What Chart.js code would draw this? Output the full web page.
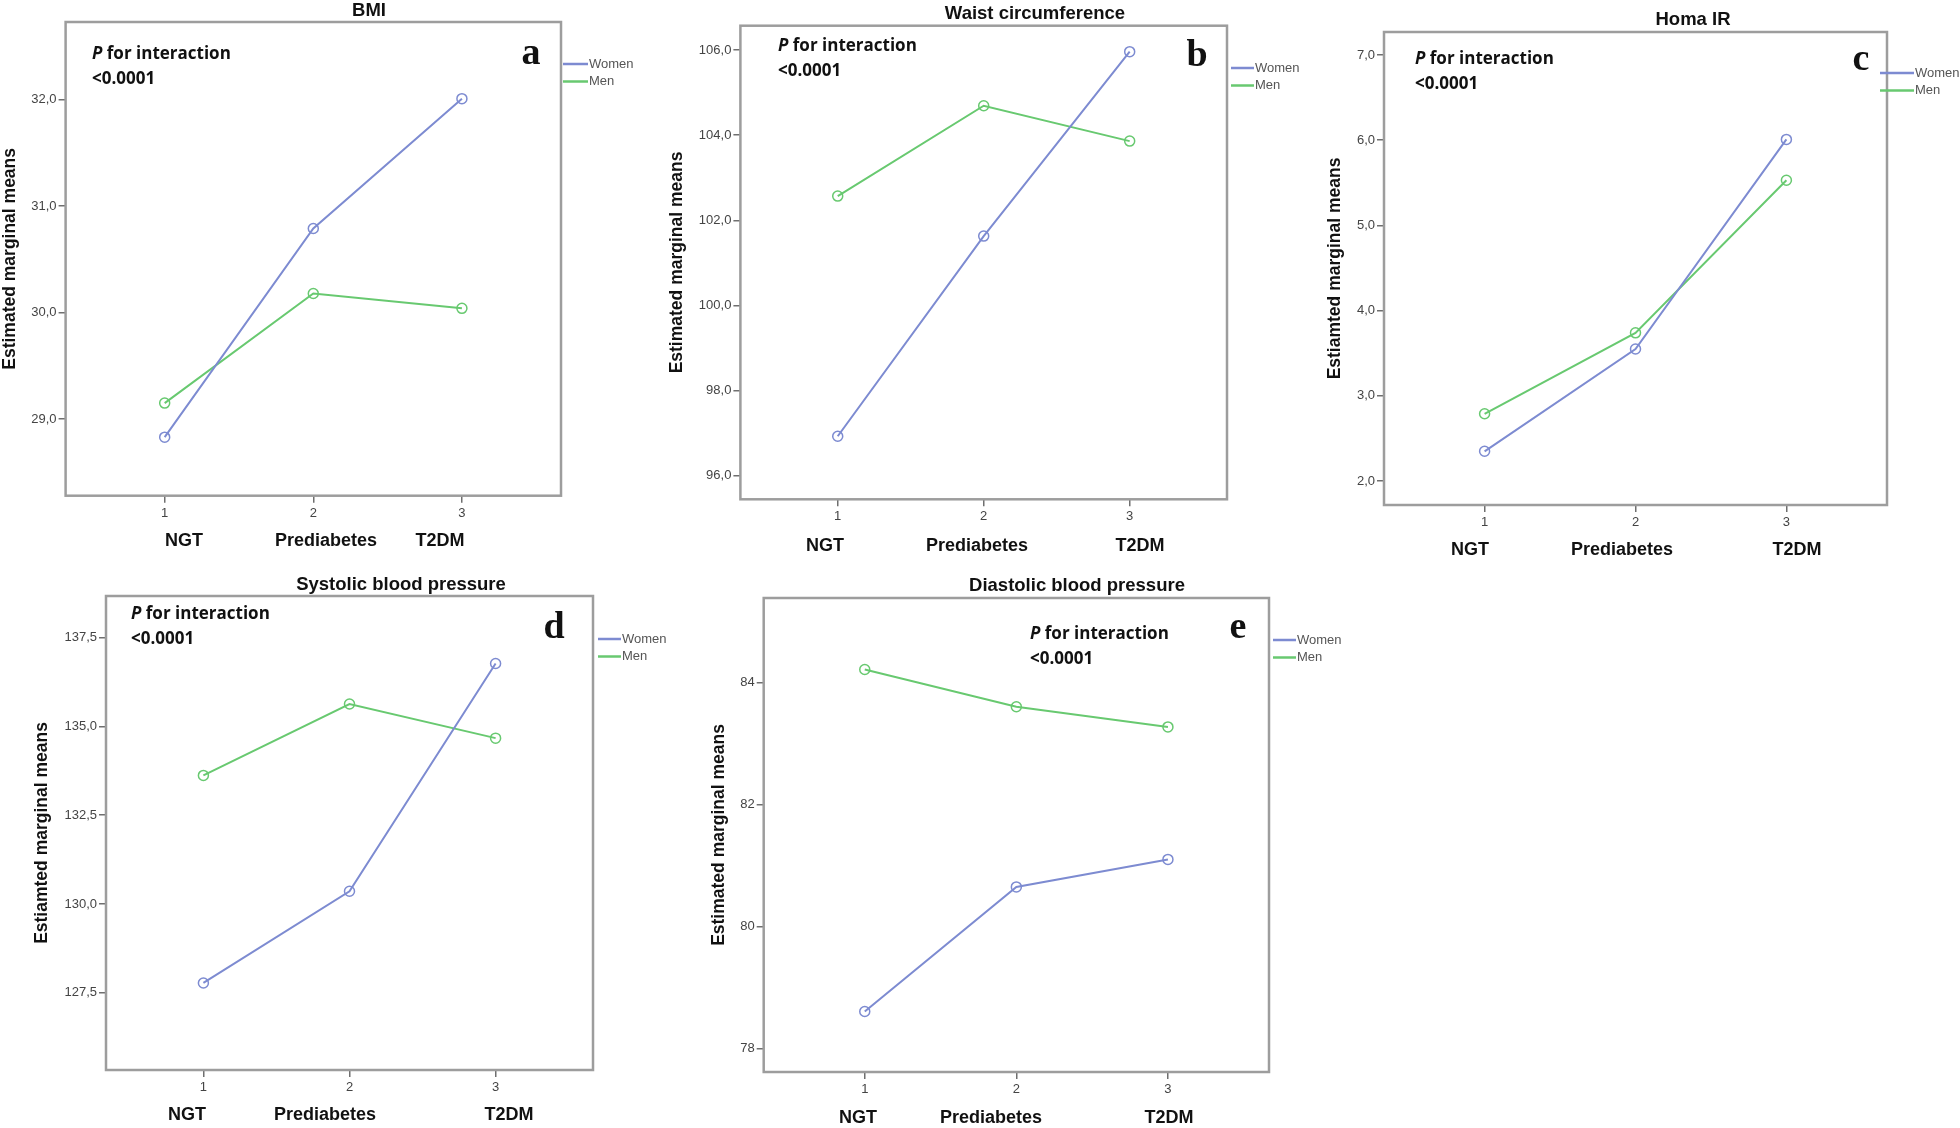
<!DOCTYPE html>
<html>
<head>
<meta charset="utf-8">
<script src="https://cdn.jsdelivr.net/npm/chart.js@4.4.0/dist/chart.umd.min.js"></script>
<style>
  html, body { margin: 0; padding: 0; background: #fff; }
  body { width: 1960px; height: 1128px; position: relative; overflow: hidden; }
  canvas { position: absolute; }
</style>
</head>
<body>
<canvas id="bmi"></canvas>
<canvas id="waist"></canvas>
<canvas id="homa"></canvas>
<canvas id="sbp"></canvas>
<canvas id="dbp"></canvas>
<script>
// groups on the x axis (coded 1..3 like in the SPSS output)
const groups = ['NGT', 'Prediabetes', 'T2DM'];
const groupCodes = [1, 2, 3];
const seriesNames = ['Women', 'Men'];
const interactionText = ['for interaction', '<0.0001'];

const bmiWomen = [28.83, 30.79, 32.01];
const bmiMen = [29.15, 30.18, 30.04];
const bmiTicks = [29, 30, 31, 32];
const bmiTickLabels = ['29,0', '30,0', '31,0', '32,0'];

const waistWomen = [96.93, 101.63, 105.96];
const waistMen = [102.57, 104.69, 103.86];
const waistTicks = [96, 98, 100, 102, 104, 106];
const waistTickLabels = ['96,0', '98,0', '100,0', '102,0', '104,0', '106,0'];

const homaWomen = [2.35, 3.55, 6.01];
const homaMen = [2.79, 3.74, 5.53];
const homaTicks = [2, 3, 4, 5, 6, 7];
const homaTickLabels = ['2,0', '3,0', '4,0', '5,0', '6,0', '7,0'];

const sbpWomen = [127.78, 130.36, 136.77];
const sbpMen = [133.62, 135.63, 134.67];
const sbpTicks = [127.5, 130, 132.5, 135, 137.5];
const sbpTickLabels = ['127,5', '130,0', '132,5', '135,0', '137,5'];

const dbpWomen = [78.61, 80.65, 81.10];
const dbpMen = [84.21, 83.60, 83.27];
const dbpTicks = [78, 80, 82, 84];
const dbpTickLabels = ['78', '80', '82', '84'];

const WOMEN_COLOR = '#7d8bd1';
const MEN_COLOR = '#68c970';
const FRAME_COLOR = '#9d9d9d';
const SANS = '"Liberation Sans", Arial, sans-serif';
const NOTE_FONT = '"Open Sans", sans-serif';

Chart.defaults.font.family = SANS;

// layout: all coordinates are page pixels
const panels = [
  { id: 'bmi', title: 'BMI', letter: 'a', yTitle: 'Estimated marginal means',
    women: bmiWomen, men: bmiMen, ticks: bmiTicks, tickLabels: bmiTickLabels, yMin: 28.28, yMax: 32.73,
    canvas: [0, 0, 650, 560], box: [65.6, 22, 561, 495.7], yTitleX: 10.6,
    titleAt: [369, 11], pAt: [92, 54], letterAt: [531, 64], legend: [563, 588, 64],
    namesX: [184, 326, 440], namesY: 541 },
  { id: 'waist', title: 'Waist circumference', letter: 'b', yTitle: 'Estimated marginal means',
    women: waistWomen, men: waistMen, ticks: waistTicks, tickLabels: waistTickLabels, yMin: 95.45, yMax: 106.57,
    canvas: [655, 0, 650, 560], box: [740.4, 25.7, 1227, 499.3], yTitleX: 677,
    titleAt: [1035, 14], pAt: [778, 46], letterAt: [1197, 66], legend: [1231, 1254, 68],
    namesX: [825, 977, 1140], namesY: 546 },
  { id: 'homa', title: 'Homa IR', letter: 'c', yTitle: 'Estiamted marginal means',
    women: homaWomen, men: homaMen, ticks: homaTicks, tickLabels: homaTickLabels, yMin: 1.72, yMax: 7.27,
    canvas: [1310, 0, 650, 560], box: [1384, 32, 1887, 505], yTitleX: 1335,
    titleAt: [1693, 20], pAt: [1415, 59], letterAt: [1861, 70], legend: [1880, 1914, 73],
    namesX: [1470, 1622, 1797], namesY: 550 },
  { id: 'sbp', title: 'Systolic blood pressure', letter: 'd', yTitle: 'Estiamted marginal means',
    women: sbpWomen, men: sbpMen, ticks: sbpTicks, tickLabels: sbpTickLabels, yMin: 125.33, yMax: 138.67,
    canvas: [0, 562, 700, 566], box: [106, 596, 593, 1070], yTitleX: 42.6,
    titleAt: [401, 585], pAt: [131, 614], letterAt: [554, 638], legend: [598, 621, 639],
    namesX: [187, 325, 509], namesY: 1115 },
  { id: 'dbp', title: 'Diastolic blood pressure', letter: 'e', yTitle: 'Estimated marginal means',
    women: dbpWomen, men: dbpMen, ticks: dbpTicks, tickLabels: dbpTickLabels, yMin: 77.62, yMax: 85.38,
    canvas: [700, 562, 700, 566], box: [763.7, 598, 1269, 1072], yTitleX: 718.8,
    titleAt: [1077, 586], pAt: [1030, 634], letterAt: [1238, 638], legend: [1273, 1296, 640],
    namesX: [858, 991, 1169], namesY: 1118 }
];

// frame, titles, legend and the free text of each panel
const annotate = {
  id: 'annotate',
  afterDraw(chart, args, opts) {
    const p = opts.panel;
    const ctx = chart.ctx;
    const area = chart.chartArea;
    const ox = p.canvas[0], oy = p.canvas[1];
    ctx.save();

    ctx.strokeStyle = FRAME_COLOR;
    ctx.lineWidth = 2.5;
    ctx.strokeRect(area.left, area.top, area.right - area.left, area.bottom - area.top);

    ctx.fillStyle = '#111';
    ctx.textBaseline = 'middle';
    ctx.textAlign = 'center';
    ctx.font = 'bold 18.5px ' + SANS;
    ctx.fillText(p.title, p.titleAt[0] - ox, p.titleAt[1] - oy);

    ctx.font = 'bold 18px ' + SANS;
    groups.forEach((g, i) => ctx.fillText(g, p.namesX[i] - ox, p.namesY - oy));

    // "P for interaction <0.0001"
    ctx.textAlign = 'left';
    const px = p.pAt[0] - ox, py = p.pAt[1] - oy;
    ctx.font = 'italic bold 17px ' + NOTE_FONT;
    ctx.fillText('P', px, py);
    const pw = ctx.measureText('P ').width;
    ctx.font = 'bold 17px ' + NOTE_FONT;
    ctx.fillText(interactionText[0], px + pw, py);
    ctx.fillText(interactionText[1], px, py + 25);

    ctx.textAlign = 'center';
    ctx.textBaseline = 'alphabetic';
    ctx.font = 'bold 38px "Liberation Serif", "Times New Roman", serif';
    ctx.fillText(p.letter, p.letterAt[0] - ox, p.letterAt[1] - oy);

    // legend outside the frame
    ctx.textAlign = 'left';
    ctx.textBaseline = 'middle';
    ctx.font = '13px ' + SANS;
    chart.data.datasets.forEach((ds, i) => {
      const y = p.legend[2] - oy + i * 17.5;
      ctx.strokeStyle = ds.borderColor;
      ctx.lineWidth = 2.5;
      ctx.beginPath();
      ctx.moveTo(p.legend[0] - ox, y);
      ctx.lineTo(p.legend[1] - ox, y);
      ctx.stroke();
      ctx.fillStyle = '#555';
      ctx.fillText(ds.label, p.legend[1] - ox + 1, y);
    });
    ctx.restore();
  }
};

function series(label, values, color) {
  return {
    label: label,
    data: groupCodes.map((c, i) => ({ x: c, y: values[i] })),
    borderColor: color,
    borderWidth: 2,
    pointStyle: 'circle',
    pointRadius: 5,
    pointBorderWidth: 1.5,
    pointBorderColor: color,
    pointBackgroundColor: 'rgba(255,255,255,0)',
    tension: 0,
    fill: false
  };
}

panels.forEach(p => {
  const el = document.getElementById(p.id);
  const [cx, cy, cw, ch] = p.canvas;
  el.width = cw;
  el.height = ch;
  el.style.left = cx + 'px';
  el.style.top = cy + 'px';

  const tickFont = { family: SANS, size: 13 };
  new Chart(el, {
    type: 'line',
    data: {
      datasets: [
        series(seriesNames[0], p.women, WOMEN_COLOR),
        series(seriesNames[1], p.men, MEN_COLOR)
      ]
    },
    options: {
      responsive: false,
      animation: false,
      devicePixelRatio: 1,
      layout: {
        padding: { left: 0, top: p.box[1] - cy, right: cx + cw - p.box[2], bottom: 0 }
      },
      plugins: {
        legend: { display: false },
        tooltip: { enabled: false },
        annotate: { panel: p }
      },
      scales: {
        x: {
          type: 'linear',
          min: 1 / 3,
          max: 11 / 3,
          afterBuildTicks: s => { s.ticks = groupCodes.map(v => ({ value: v })); },
          afterFit: s => { s.height = cy + ch - p.box[3]; },
          ticks: { font: tickFont, color: '#444', padding: 2.5, maxRotation: 0, autoSkip: false,
                   callback: v => String(v) },
          grid: { drawOnChartArea: false, tickLength: 7, color: '#6f6f6f', lineWidth: 1.5 },
          border: { display: false }
        },
        y: {
          type: 'linear',
          min: p.yMin,
          max: p.yMax,
          afterBuildTicks: s => { s.ticks = p.ticks.map(v => ({ value: v })); },
          afterFit: s => { s.width = p.box[0] - cx; },
          ticks: { font: tickFont, color: '#444', padding: 2,
                   callback: (v, i) => p.tickLabels[i] },
          grid: { drawOnChartArea: false, tickLength: 7, color: '#6f6f6f', lineWidth: 1.5 },
          border: { display: false },
          title: {
            display: true,
            text: p.yTitle,
            color: '#111',
            font: { family: SANS, size: 17.5, weight: 'bold' },
            padding: { top: Math.max(0, p.yTitleX - cx - 10.5), bottom: 0 }
          }
        }
      }
    },
    plugins: [annotate]
  });
});
</script>
</body>
</html>
